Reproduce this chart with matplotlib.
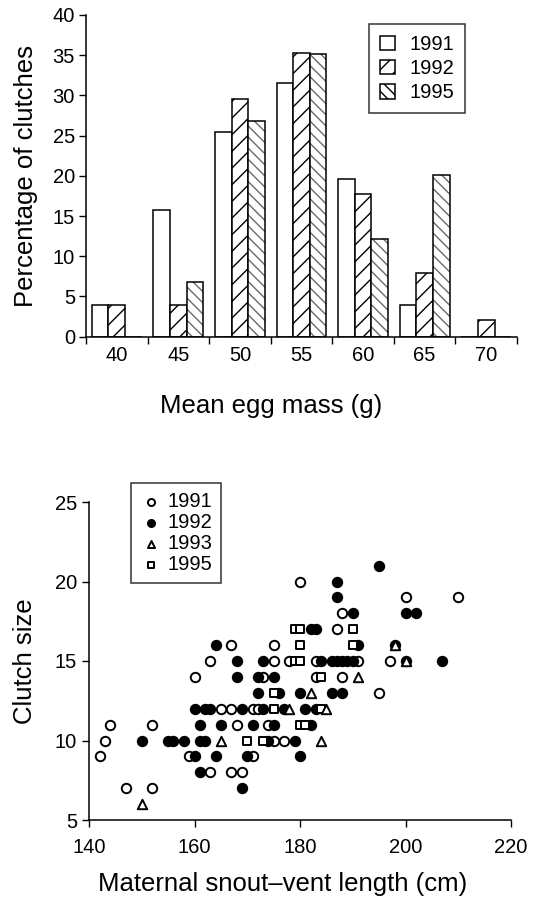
import matplotlib
matplotlib.use("Agg")
import matplotlib.pyplot as plt
from matplotlib.patches import Patch
import numpy as np

plt.rcParams['font.family'] = ['Liberation Sans', 'DejaVu Sans']
plt.rcParams['hatch.linewidth'] = 1.0

# ---------------- Histogram data ----------------
mass_labels = ["40", "45", "50", "55", "60", "65", "70"]
pct_1991 = [4.0, 15.7, 25.5, 31.5, 19.6, 4.0, 0.0]
pct_1992 = [4.0, 4.0, 29.5, 35.3, 17.8, 7.9, 2.1]
pct_1995 = [0.0, 6.8, 26.8, 35.2, 12.1, 20.1, 0.0]
hist_years = ["1991", "1992", "1995"]

# ---------------- Scatter data ----------------
svl_1991 = [142, 143, 144, 147, 152, 152, 159, 160, 163, 163, 165, 167, 167, 167, 168,
            169, 171, 171, 172, 173, 174, 175, 175, 175, 177, 178, 180, 183, 183, 187,
            188, 188, 191, 195, 197, 200, 210]
cs_1991 = [9, 10, 11, 7, 11, 7, 9, 14, 8, 15, 12, 16, 12, 8, 11,
           8, 9, 12, 12, 14, 11, 10, 15, 16, 10, 15, 20, 15, 14, 17,
           18, 14, 15, 13, 15, 19, 19]

svl_1992 = [150, 155, 156, 158, 160, 160, 161, 162, 161, 161, 162, 163, 164, 164, 165,
            168, 168, 169, 169, 170, 171, 172, 172, 173, 173, 174, 175, 175, 176, 177,
            179, 180, 180, 181, 182, 182, 183, 183, 184, 186, 186, 187, 187, 187, 188,
            188, 189, 190, 190, 191, 195, 198, 200, 200, 202, 207]
cs_1992 = [10, 10, 10, 10, 9, 12, 10, 10, 11, 8, 12, 12, 9, 16, 11,
           15, 14, 12, 7, 9, 11, 13, 14, 15, 12, 10, 11, 14, 13, 12,
           10, 13, 9, 12, 17, 11, 12, 17, 15, 13, 15, 15, 20, 19, 13,
           15, 15, 18, 15, 16, 21, 16, 15, 18, 18, 15]

svl_1993 = [150, 165, 178, 182, 184, 185, 191, 198, 200]
cs_1993 = [6, 10, 12, 13, 10, 12, 14, 16, 15]

svl_1995 = [170, 173, 175, 175, 179, 180, 179, 180, 180, 181, 180, 184, 184, 190, 190]
cs_1995 = [10, 10, 13, 12, 15, 15, 17, 17, 11, 11, 16, 14, 12, 17, 16]

W, H = 544, 901
fig = plt.figure(figsize=(W / 100, H / 100), dpi=100)

TICK_FS = 14.5
LABEL_FS = 18.5
LEG_FS = 14.5

# ---------------- Top: histogram ----------------
ax1 = fig.add_axes([86 / W, 1 - 336.7 / H, (517 - 86) / W, (336.7 - 15) / H])
x = np.arange(len(mass_labels))
bw = 0.27
lw = 1.1
ax1.bar(x - bw, pct_1991, bw, facecolor="white", edgecolor="black", linewidth=lw, label="1991")
ax1.bar(x, pct_1992, bw, facecolor="white", edgecolor="black", linewidth=lw, hatch="//", label="1992")
# 1995: lighter (dashed-looking) hatch drawn in grey, outline in black on top
ax1.bar(x + bw, pct_1995, bw, facecolor="white", edgecolor="#6a6a6a", linewidth=0, hatch="\\\\\\")
ax1.bar(x + bw, pct_1995, bw, facecolor="none", edgecolor="black", linewidth=lw)

ax1.set_xlim(-0.5, len(mass_labels) - 0.5)
ax1.set_ylim(0, 40)
ax1.set_yticks(np.arange(0, 41, 5))
ax1.set_xticks(x)
ax1.set_xticklabels(mass_labels)
ax1.set_xticks(np.arange(-0.5, len(mass_labels)), minor=True)
ax1.tick_params(axis="x", which="major", length=0, pad=7, labelsize=TICK_FS)
ax1.tick_params(axis="x", which="minor", length=5, width=1, direction="out")
ax1.tick_params(axis="y", length=5, width=1, direction="out", labelsize=TICK_FS, pad=3)
for s in ["top", "right"]:
    ax1.spines[s].set_visible(False)
for s in ["left", "bottom"]:
    ax1.spines[s].set_linewidth(1.1)
ax1.set_ylabel("Percentage of clutches", fontsize=LABEL_FS)
ax1.set_xlabel("Mean egg mass (g)", fontsize=LABEL_FS)
ax1.yaxis.set_label_coords(-0.112, 0.5)
ax1.xaxis.set_label_coords(0.43, -0.178)

h1 = [Patch(facecolor="white", edgecolor="black", linewidth=lw),
      Patch(facecolor="white", edgecolor="black", linewidth=lw, hatch="//"),
      Patch(facecolor="white", edgecolor="black", linewidth=lw, hatch="\\\\\\")]
leg1 = ax1.legend(h1, hist_years, loc="upper left", bbox_to_anchor=((369 - 86) / 431, 0.972),
                  fontsize=LEG_FS, frameon=True, fancybox=False, edgecolor="black",
                  handlelength=0.75, handleheight=0.75, handletextpad=0.7,
                  borderpad=0.55, labelspacing=0.25, borderaxespad=0)
leg1.get_frame().set_linewidth(1.1)

# ---------------- Bottom: scatter ----------------
ax2 = fig.add_axes([89 / W, 1 - 820 / H, (511 - 89) / W, (820 - 502) / H])
ms = 46
ew = 1.4
ax2.scatter(svl_1991, cs_1991, s=ms, marker="o", facecolors="white", edgecolors="black", linewidths=ew, label="1991", zorder=3)
ax2.scatter(svl_1992, cs_1992, s=ms, marker="o", facecolors="black", edgecolors="black", linewidths=ew, label="1992", zorder=3)
ax2.scatter(svl_1993, cs_1993, s=ms, marker="^", facecolors="white", edgecolors="black", linewidths=ew, label="1993", zorder=4)
ax2.scatter(svl_1995, cs_1995, s=ms * 0.9, marker="s", facecolors="white", edgecolors="black", linewidths=ew, label="1995", zorder=3)

ax2.set_xlim(140, 220)
ax2.set_ylim(5, 25)
ax2.set_xticks(np.arange(140, 221, 20))
ax2.set_yticks(np.arange(5, 26, 5))
ax2.tick_params(axis="both", length=5, width=1, direction="out", labelsize=TICK_FS)
ax2.tick_params(axis="x", pad=8)
for s in ["top", "right"]:
    ax2.spines[s].set_visible(False)
for s in ["left", "bottom"]:
    ax2.spines[s].set_linewidth(1.1)
ax2.set_ylabel("Clutch size", fontsize=LABEL_FS)
ax2.set_xlabel("Maternal snout\u2013vent length (cm)", fontsize=LABEL_FS)
ax2.yaxis.set_label_coords(-0.123, 0.5)
ax2.xaxis.set_label_coords(0.46, -0.165)
leg2 = ax2.legend(loc="upper left", bbox_to_anchor=((131 - 89) / 422, 1 + (502 - 483) / 318),
                  fontsize=LEG_FS, frameon=True, fancybox=False, edgecolor="black",
                  markerscale=0.75, handlelength=1.1, handletextpad=0.25,
                  borderpad=0.45, labelspacing=0.1, borderaxespad=0, scatterpoints=1)
leg2.get_frame().set_linewidth(1.1)

fig.savefig("out.png", dpi=100)
